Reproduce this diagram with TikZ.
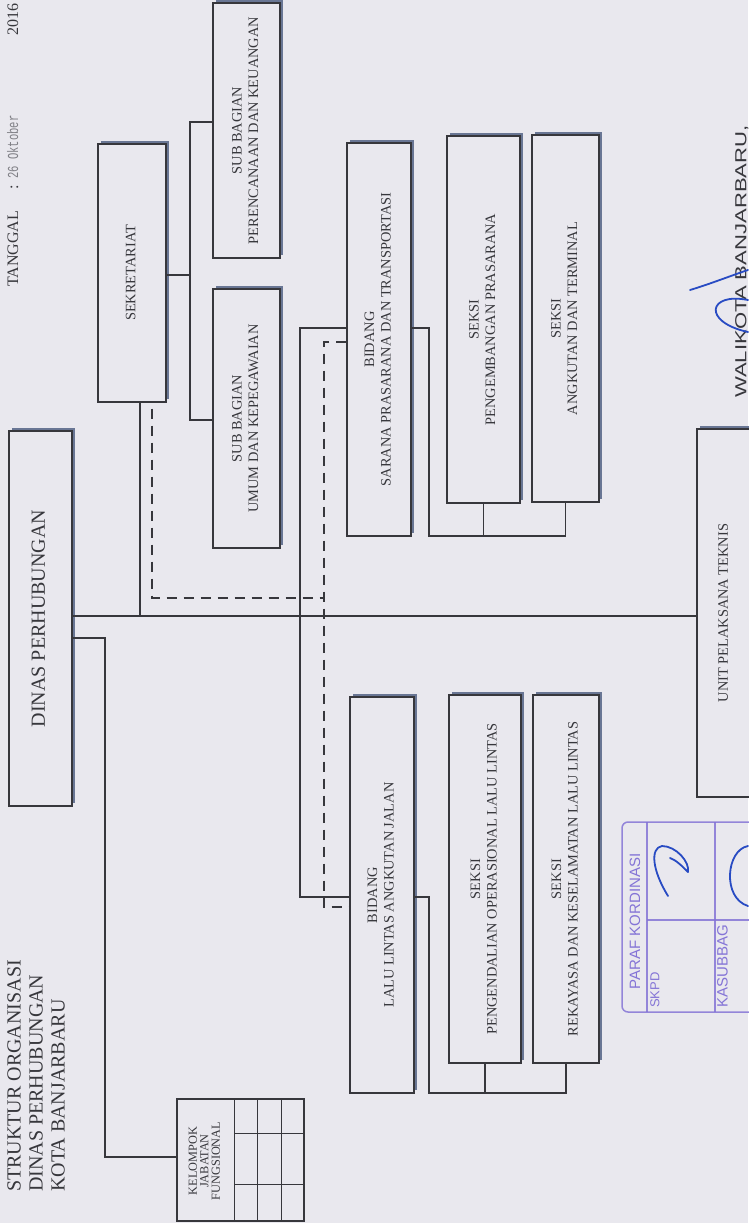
\documentclass[tikz,border=0pt]{standalone}
\usepackage{fontspec}
\usepackage{graphicx}
\setmainfont{Liberation Serif}
\newfontfamily\sansf{Liberation Sans}
\newfontfamily\sanswide[FakeStretch=1.38]{Liberation Sans}
\newfontfamily\monof{Liberation Mono}
\usetikzlibrary{shadows}
\definecolor{paper}{RGB}{233,232,238}
\definecolor{ink}{RGB}{55,55,60}
\definecolor{shade}{RGB}{105,118,148}
\definecolor{stampc}{RGB}{132,116,214}
\definecolor{pen}{RGB}{40,75,195}
\definecolor{graytxt}{RGB}{128,128,134}
\newcommand\bxf{\fontsize{14.4}{16.5}\selectfont}
\newcommand\bigf{\fontsize{20}{22}\selectfont}
\newcommand\kelf{\fontsize{12.3}{11.5}\selectfont}
\newcommand\rtext[1]{\rotatebox{90}{\begin{tabular}{@{}c@{}}#1\end{tabular}}}
\begin{document}
\begin{tikzpicture}[x=1pt,y=-1pt,
  orgbox/.style={draw=ink, line width=1.4pt, fill=paper, inner sep=0pt, font=\bxf, text=ink,
    drop shadow={shadow xshift=3pt, shadow yshift=3pt, fill=shade, opacity=1}},
  plainbox/.style={draw=ink, line width=1.3pt, fill=paper, inner sep=0pt},
  conn/.style={draw=ink, line width=1.3pt},
  dashc/.style={draw=ink, line width=2.5pt, dash pattern=on 10pt off 7pt},
  txt/.style={inner sep=0pt, text=ink},
  stxt/.style={inner sep=0pt, text=stampc, font=\sansf}]
\fill[paper] (0,0) rectangle (748,1223);
\useasboundingbox (0,0) rectangle (748,1223);

% header texts
\node[txt, anchor=south west, font=\fontsize{16}{18}\selectfont] (tgl) at (7,287)
  {\rotatebox{90}{TANGGAL\hspace{21pt}:\hspace{7pt}{\monof\fontsize{10.5}{13}\selectfont\color{graytxt}\scalebox{1}[1.45]{26\hspace{6pt}Oktober}}\hspace{80.5pt}2016}};
\node[txt, anchor=south west, font=\bigf] (title) at (5,1192)
  {\rotatebox{90}{\begin{tabular}{@{}l@{}}STRUKTUR ORGANISASI\\DINAS PERHUBUNGAN\\KOTA BANJARBARU\end{tabular}}};
\node[txt, anchor=south west, font=\sanswide\fontsize{16}{18}\selectfont] (wali) at (735,398)
  {\rotatebox{90}{WALIKOTA BANJARBARU,}};

% boxes
\node[orgbox, minimum width=68pt, minimum height=258pt] (sekr) at (132,273) {\rtext{SEKRETARIAT}};
\node[orgbox, minimum width=67pt, minimum height=255pt] (subpk) at (246.5,130.5) {\rtext{SUB BAGIAN\\PERENCANAAN DAN KEUANGAN}};
\node[orgbox, minimum width=67pt, minimum height=259pt] (subuk) at (246.5,418.5) {\rtext{SUB BAGIAN\\UMUM DAN KEPEGAWAIAN}};
\node[orgbox, minimum width=64pt, minimum height=393pt] (bsar) at (379,339.5) {\rtext{BIDANG\\SARANA PRASARANA DAN TRANSPORTASI}};
\node[orgbox, minimum width=73pt, minimum height=367pt] (skpp) at (483.5,319.5) {\rtext{SEKSI\\PENGEMBANGAN PRASARANA}};
\node[orgbox, minimum width=67pt, minimum height=367pt] (skat) at (565.5,318.5) {\rtext{SEKSI\\ANGKUTAN DAN TERMINAL}};
\node[orgbox, minimum width=63pt, minimum height=375pt, font=\bigf] (dinas) at (40.5,618.5) {\rtext{DINAS PERHUBUNGAN}};
\node[orgbox, minimum width=55pt, minimum height=368pt] (unit) at (724.5,613) {\rtext{UNIT PELAKSANA TEKNIS}};
\node[orgbox, minimum width=64pt, minimum height=396pt] (blla) at (382,895) {\rtext{BIDANG\\LALU LINTAS ANGKUTAN JALAN}};
\node[orgbox, minimum width=72pt, minimum height=368pt] (skpo) at (485,879) {\rtext{SEKSI\\PENGENDALIAN OPERASIONAL LALU LINTAS}};
\node[orgbox, minimum width=66pt, minimum height=368pt] (skrk) at (566,879) {\rtext{SEKSI\\REKAYASA DAN KESELAMATAN LALU LINTAS}};

% kelompok jabatan fungsional table
\node[plainbox, minimum width=127pt, minimum height=122pt] (kel) at (240.5,1160) {};
\foreach \dx in {58,81,105}
  \draw[conn] ([xshift=\dx pt]kel.north west) -- ([xshift=\dx pt]kel.south west);
\foreach \dy in {35,86}
  \draw[conn] ([xshift=58pt,yshift=-\dy pt]kel.north west) -- ([yshift=-\dy pt]kel.north east);
\node[txt, font=\kelf] (kelt) at (206,1161) {\rtext{KELOMPOK\\JABATAN\\FUNGSIONAL}};

% junction coordinates
\coordinate (ml) at (140,616);
\coordinate (m1) at (300,328);
\coordinate (m2) at (300,897);
\coordinate (s1) at (190,275);
\coordinate (s1a) at (190,122);
\coordinate (s1b) at (190,420);
\coordinate (r1) at (429,328);
\coordinate (r1b) at (429,536);
\coordinate (r2) at (429,897);
\coordinate (r2b) at (429,1093);
\coordinate (k1) at (105,638);
\coordinate (k2) at (105,1157);
\coordinate (d1) at (152,598);
\coordinate (d2) at (324,598);
\coordinate (d3) at (324,342);
\coordinate (d4) at (324,907);

% solid connectors
\draw[conn] (dinas.east |- ml) -- (unit.west |- ml);
\draw[conn] (sekr.south -| ml) -- (ml);
\draw[conn] (bsar.west |- m1) -- (m1) -- (m2) -- (blla.west |- m2);
\draw[conn] (sekr.east |- s1) -- (s1);
\draw[conn] (subpk.west |- s1a) -- (s1a) -- (s1b) -- (subuk.west |- s1b);
\draw[conn] (bsar.east |- r1) -- (r1) -- (r1b) -| (skat.south);
\draw[conn] (skpp.south) -- (skpp.south |- r1b);
\draw[conn] (blla.east |- r2) -- (r2) -- (r2b) -| (skrk.south);
\draw[conn] (skpo.south) -- (skpo.south |- r2b);
\draw[conn] (dinas.east |- k1) -- (k1) -- (k2) -- (kel.west |- k2);

% dashed coordination lines
\draw[dashc] ([yshift=-6pt]sekr.south -| d1) -- (d1) -- (d2);
\draw[dashc] (bsar.west |- d3) -- (d3) -- (d4) -- (blla.west |- d4);

% stamp
\begin{scope}[draw=stampc, line width=1.5pt, opacity=0.85]
  \draw[rounded corners=6pt] (760,822) -- (622,822) -- (622,1012) -- (760,1012);
  \draw (647,822) -- (647,1012);
  \draw (715,822) -- (715,1012);
  \draw (647,920) -- (760,920);
\end{scope}
\node[stxt, font=\sansf\fontsize{15}{17}\selectfont] (paraf) at (635,921.5) {\rotatebox{90}{PARAF KORDINASI}};
\node[stxt, anchor=south west, font=\sansf\fontsize{13}{15}\selectfont] (skpd) at (650,1008) {\rotatebox{90}{SKPD}};
\node[stxt, anchor=south west, font=\sansf\fontsize{15}{17}\selectfont] (kasub) at (717,1008) {\rotatebox{90}{KASUBBAG}};

% handwritten marks
\begin{scope}[draw=pen, line width=1.8pt, line cap=round]
  \draw (668,896) .. controls (652,870) and (650,848) .. (662,846) .. controls (676,846) and (690,862) .. (688,872);
  \draw (688,872) .. controls (682,866) and (676,860) .. (670,858);
  \draw (748,846) .. controls (726,850) and (722,898) .. (748,906);
  \draw (690,290) .. controls (710,284) and (730,276) .. (748,270);
  \draw (748,300) .. controls (708,292) and (702,322) .. (748,332);
\end{scope}
\end{tikzpicture}
\end{document}
